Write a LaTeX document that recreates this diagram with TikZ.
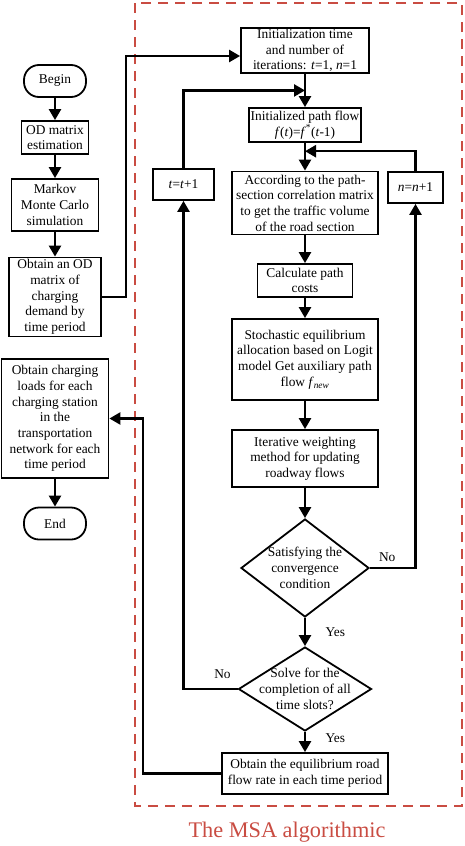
\documentclass[tikz,border=0pt]{standalone}
\usepackage{fontspec}
\setmainfont{Liberation Serif}
\usetikzlibrary{positioning,shapes.geometric,arrows.meta,calc}
\definecolor{msared}{RGB}{201,76,66}

\begin{document}
\begin{tikzpicture}[x=1pt,y=-1pt,on grid,
  font=\fontsize{13.4}{15.7}\selectfont,
  box/.style={draw,line width=1.8pt,align=center,inner sep=1pt},
  term/.style={box,rounded corners=15pt,minimum width=62pt,minimum height=32pt},
  decision/.style={draw,diamond,line width=1.8pt,inner sep=0pt},
  flow/.style={line width=2.4pt,-{Triangle[length=11pt,width=12pt]}},
  link/.style={line width=2.4pt}]
  \useasboundingbox (0,0) rectangle (464,846);
  % main chain
  \path
  node[term] (begin) at (55,81) {Begin}
  node[box,minimum width=67pt,minimum height=33pt] (odest) [below=56.5pt of begin] {OD matrix\\estimation}
  node[box,minimum width=87pt,minimum height=52pt] (markov) [below=67.5pt of odest] {Markov\\Monte Carlo\\simulation}
  node[box,minimum width=92pt,minimum height=79pt] (odmat) [below=92pt of markov] {Obtain an OD\\matrix of\\charging\\demand by\\time period}
  node[box,minimum width=107pt,minimum height=119pt] (loads) [below=121.5pt of odmat] {Obtain charging\\loads for each\\charging station\\in the\\transportation\\network for each\\time period}
  node[term] (end) [below=105pt of loads] {End}
  ;
  % MSA part
  \path
  node[box,minimum width=128pt,minimum height=43pt] (init) [above right=30.5pt and 250pt of begin] {Initialization time\\and number of\\iterations: \textit{t}=1, \textit{n}=1}
  node[box,minimum width=112pt,minimum height=34pt] (pathflow) [below=74.5pt of init] {Initialized path flow\\\textit{f}(\textit{t})=\textit{f}\textsuperscript{*}(\textit{t}-1)}
  node[box,minimum width=146pt,minimum height=63pt] (section) [below=78pt of pathflow] {According to the path-\\section correlation matrix\\to get the traffic volume\\of the road section}
  node[box,minimum width=95pt,minimum height=33pt] (cost) [below=77.5pt of section] {Calculate path\\costs}
  node[box,minimum width=146pt,minimum height=81pt] (stoch) [below=79pt of cost] {Stochastic equilibrium\\allocation based on Logit\\model Get auxiliary path\\flow \textit{f}\textsubscript{\textit{new}}}
  node[box,minimum width=146pt,minimum height=57pt] (iter) [below=99pt of stoch] {Iterative weighting\\method for updating\\roadway flows}
  node[decision,minimum width=128pt,minimum height=98pt,
    label={[align=center]center:Satisfying the\\convergence\\condition}] (conv) [below=109.5pt of iter] {}
  node[decision,minimum width=133pt,minimum height=84pt,
    label={[align=center]center:Solve for the\\completion of all\\time slots?}] (slots) [below=121pt of conv] {}
  node[box,minimum width=166pt,minimum height=41pt] (equil) [below=84.5pt of slots] {Obtain the equilibrium road\\flow rate in each time period}
  node[box,minimum width=61pt,minimum height=31pt] (tstep) [below left=59.5pt and 121.5pt of pathflow] {\textit{t}=\textit{t}+1}
  node[box,minimum width=55pt,minimum height=31pt] (nstep) [below right=62.5pt and 110.5pt of pathflow] {\textit{n}=\textit{n}+1}
  ;
  \draw[msared,line width=1.8pt,dash pattern=on 10pt off 7pt] (135,3) rectangle (462,806);
  \node[text=msared,font=\fontsize{22.3}{26}\selectfont,anchor=base] (title) at (287,837) {The MSA algorithmic};
  % connectors
  \path[flow]
  (begin) edge (odest)
  (odest) edge (markov)
  (markov) edge (odmat)
  (loads) edge (end)
  (init) edge (pathflow)
  (pathflow) edge (section)
  (section) edge (cost)
  (cost) edge (stoch)
  (stoch) edge (iter)
  (iter) edge (conv)
  (conv) edge node[right=16pt] {Yes} (slots)
  (slots) edge node[right=16pt,pos=0.3] {Yes} (equil)
  ;
  \draw[flow] (odmat.east) -- ++(24,0) |- ([yshift=-5.5pt]init.west);
  \draw[flow] (slots.west) -| node[above=6pt,pos=0.14] {No} (tstep.south);
  \draw[flow] (tstep.north) |- ($(init.south)!0.5!(pathflow.north)$);
  \draw[flow] (conv.east) -| node[above=2pt,pos=0.19] {No} (nstep.south);
  \draw[flow] (nstep.north) |- ($(pathflow.south)!0.3!(section.north)$);
  \draw[flow] (equil.west) -- ++(-78,0) |- (loads.east);
\end{tikzpicture}
\end{document}
